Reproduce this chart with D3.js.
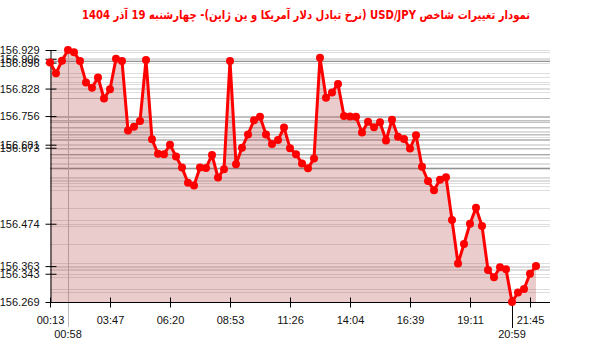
<!DOCTYPE html>
<html>
<head>
<meta charset="utf-8">
<script src="https://cdn.jsdelivr.net/npm/d3@7"></script>
<style>
  body { margin: 0; background: #fff; }
  svg { display: block; }
</style>
</head>
<body>
<svg class="chartContainer" width="600" height="352"></svg>
<script>
// chart data
var titleText = "نمودار تغییرات شاخص USD/JPY (نرخ تبادل دلار آمریکا و ین ژاپن)- چهارشنبه  19 آذر 1404";

var values = [
  156.896, 156.868, 156.901, 156.929, 156.923, 156.900, 156.844, 156.830, 156.857, 156.802,
  156.826, 156.906, 156.900, 156.718, 156.728, 156.743, 156.903, 156.695, 156.657, 156.656,
  156.681, 156.650, 156.621, 156.581, 156.574, 156.621, 156.620, 156.654, 156.595, 156.617,
  156.900, 156.630, 156.673, 156.708, 156.745, 156.754, 156.708, 156.683, 156.693, 156.726,
  156.672, 156.656, 156.632, 156.619, 156.645, 156.909, 156.804, 156.818, 156.840, 156.756,
  156.755, 156.754, 156.713, 156.741, 156.727, 156.740, 156.692, 156.746, 156.702, 156.696,
  156.671, 156.706, 156.623, 156.586, 156.562, 156.589, 156.596, 156.484, 156.370, 156.421,
  156.474, 156.516, 156.468, 156.353, 156.334, 156.360, 156.355, 156.269, 156.294, 156.303,
  156.343, 156.363
];

var yTicks = [156.929, 156.906, 156.896, 156.828, 156.756, 156.681, 156.673, 156.474, 156.363, 156.343, 156.269];

var xTickIdx = [0, 10, 20, 30, 40, 50, 60, 70, 80];
var xTickLabels = ["00:13", "03:47", "06:20", "08:53", "11:26", "14:04", "16:39", "19:11", "21:45"];

// max / min markers (second row of x labels)
var maxIdx = 3, maxLabel = "00:58";
var minIdx = 77, minLabel = "20:59";

var svg = d3.select(".chartContainer");
svg.selectAll("*").remove();

var padL = 50, padR = 550, padT = 50, padB = 302;

var x = d3.scaleLinear().domain([0, values.length - 1]).range([padL, padL + 6 * (values.length - 1)]);
var y = d3.scaleLinear().domain([d3.min(values), d3.max(values)]).range([padB, padT]);

// title
svg.append("text")
  .attr("x", 306)
  .attr("y", 19)
  .attr("text-anchor", "middle")
  .attr("direction", "rtl")
  .attr("textLength", 448)
  .attr("lengthAdjust", "spacingAndGlyphs")
  .style("font-family", "DejaVu Sans, sans-serif")
  .style("font-weight", "bold")
  .style("font-size", "12px")
  .style("fill", "#f00")
  .text(titleText);

// horizontal grid lines, one per value
svg.append("g")
  .selectAll("line")
  .data(values)
  .enter().append("line")
  .attr("x1", padL)
  .attr("x2", padR)
  .attr("y1", function (d) { return Math.round(y(d)) + 0.5; })
  .attr("y2", function (d) { return Math.round(y(d)) + 0.5; })
  .style("stroke", "#000")
  .style("stroke-opacity", 0.13)
  .style("stroke-width", 1);

// vertical marker for max
svg.append("line")
  .attr("x1", Math.round(x(maxIdx)) + 0.5)
  .attr("x2", Math.round(x(maxIdx)) + 0.5)
  .attr("y1", y(values[maxIdx]))
  .attr("y2", 327)
  .style("stroke", "#bbb")
  .style("stroke-width", 1);

// area under line
var area = d3.area()
  .x(function (d, i) { return x(i); })
  .y0(padB)
  .y1(function (d) { return y(d); });

svg.append("path")
  .datum(values)
  .attr("d", area)
  .style("fill", "rgb(170,40,40)")
  .style("fill-opacity", 0.24);

// y axis
var yAxis = d3.axisLeft(y)
  .tickValues(yTicks)
  .tickFormat(d3.format(".3f"))
  .tickSizeInner(5)
  .tickSizeOuter(0)
  .tickPadding(6);

var gy = svg.append("g")
  .attr("transform", "translate(" + (padL + 0.5) + ",0)")
  .call(yAxis);
gy.select(".domain").style("stroke", "#000");
gy.selectAll(".tick line").attr("x1", 6).attr("x2", -5).style("stroke", "#000");
gy.selectAll(".tick text")
  .style("font-family", "Liberation Sans, Arial, sans-serif")
  .style("font-size", "11px")
  .style("fill", "#111");

// x axis
var xAxis = d3.axisBottom(x)
  .tickValues(xTickIdx)
  .tickFormat(function (d, i) { return xTickLabels[i]; })
  .tickSizeInner(5)
  .tickSizeOuter(0)
  .tickPadding(9);

var gx = svg.append("g")
  .attr("transform", "translate(0," + (padB + 0.5) + ")")
  .call(xAxis);
gx.select(".domain").attr("d", "M" + padL + ",0H" + padR).style("stroke", "#000");
gx.selectAll(".tick line").attr("y1", -5).attr("y2", 5).style("stroke", "#000");
gx.selectAll(".tick text")
  .style("font-family", "Liberation Sans, Arial, sans-serif")
  .style("font-size", "11px")
  .style("fill", "#111");

// min marker below axis
svg.append("line")
  .attr("x1", Math.round(x(minIdx)) + 0.5)
  .attr("x2", Math.round(x(minIdx)) + 0.5)
  .attr("y1", padB - 5)
  .attr("y2", 328)
  .style("stroke", "#000")
  .style("stroke-width", 1);

// second row labels for max and min
svg.selectAll(".extraLabel")
  .data([[maxIdx, maxLabel], [minIdx, minLabel]])
  .enter().append("text")
  .attr("class", "extraLabel")
  .attr("x", function (d) { return x(d[0]); })
  .attr("y", 338)
  .attr("text-anchor", "middle")
  .style("font-family", "Liberation Sans, Arial, sans-serif")
  .style("font-size", "11px")
  .style("fill", "#111")
  .text(function (d) { return d[1]; });

// red line with points
var line = d3.line()
  .x(function (d, i) { return x(i); })
  .y(function (d) { return y(d); });

svg.append("path")
  .datum(values)
  .attr("d", line)
  .style("fill", "none")
  .style("stroke", "#f00")
  .style("stroke-width", 3)
  .style("stroke-linejoin", "round");

svg.append("g")
  .selectAll("circle")
  .data(values)
  .enter().append("circle")
  .attr("cx", function (d, i) { return x(i); })
  .attr("cy", function (d) { return y(d); })
  .attr("r", 4)
  .style("fill", "#f00");
</script>
</body>
</html>
